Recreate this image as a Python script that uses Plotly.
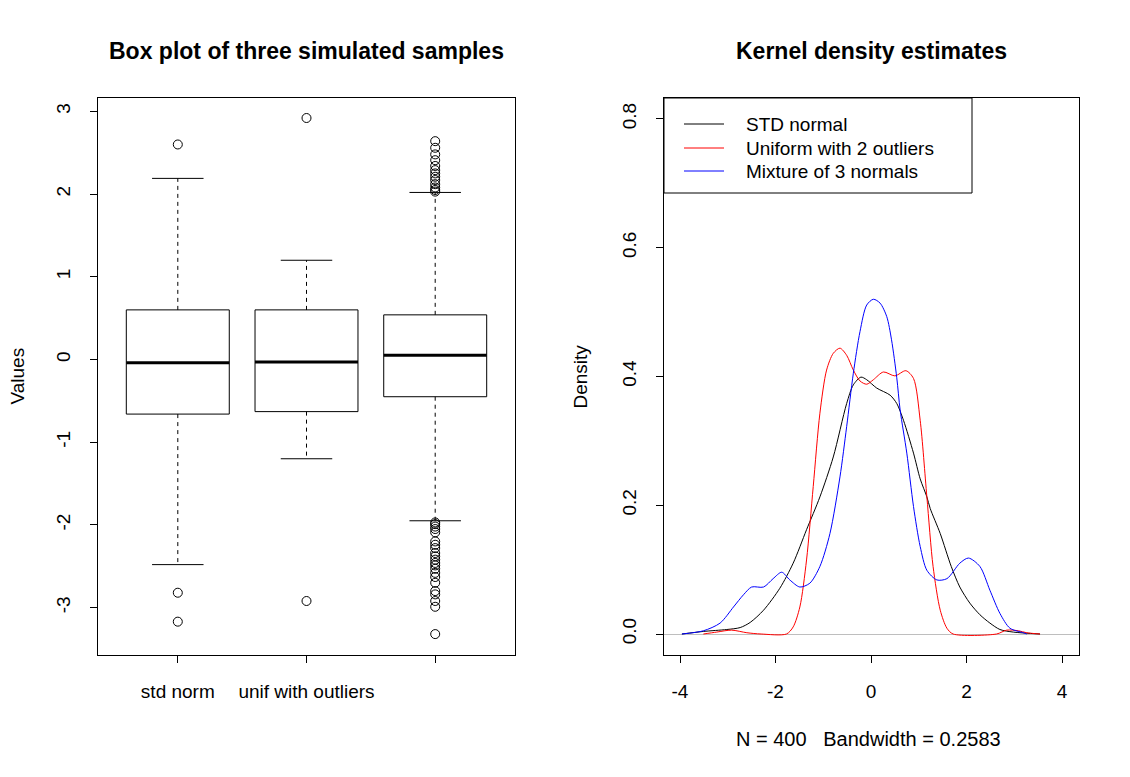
'''
 Box plot and kernel density estimates of three simulated samples
'''

from plotly.subplots import make_subplots
import plotly.graph_objects as go

# box plot summary
box_names = ['std norm', 'unif with outliers', '']
box_pos = [1, 2, 3]
q1 = [-0.66, -0.63, -0.45]
med = [-0.04, -0.03, 0.05]
q3 = [0.60, 0.60, 0.54]
whisk_lo = [-2.48, -1.20, -1.95]
whisk_hi = [2.19, 1.20, 2.02]

out_norm = [2.60, -2.82, -3.17]
out_unif = [2.92, -2.92]
out_mix = [2.64, 2.56, 2.48, 2.41, 2.34, 2.29, 2.25, 2.21, 2.17, 2.12, 2.08, 2.05, 2.03,
           -1.97, -1.99, -2.02, -2.05, -2.09, -2.20, -2.24, -2.28, -2.34, -2.38, -2.42,
           -2.46, -2.49, -2.53, -2.58, -2.63, -2.70, -2.80, -2.84, -2.92, -2.99, -3.32]

# density curves
norm_x = [-3.96, -3.51, -3.02, -2.74, -2.53, -2.25, -1.91, -1.63, -1.35, -1.07, -0.79, -0.51,
          -0.37, -0.21, -0.09, 0.12, 0.40, 0.54, 0.68, 0.89, 1.03, 1.17, 1.24, 1.45, 1.68,
          1.86, 2.07, 2.28, 2.49, 2.70, 2.98, 3.54]
norm_y = [0.000, 0.004, 0.007, 0.010, 0.018, 0.037, 0.071, 0.110, 0.162, 0.213, 0.275, 0.358,
          0.387, 0.399, 0.395, 0.382, 0.371, 0.358, 0.332, 0.281, 0.241, 0.213, 0.195, 0.156,
          0.105, 0.073, 0.048, 0.030, 0.017, 0.007, 0.003, 0.000]

unif_x = [-3.51, -3.23, -2.92, -2.60, -2.30, -1.77, -1.63, -1.49, -1.35, -1.21, -1.07, -0.93,
          -0.79, -0.65, -0.51, -0.37, -0.23, -0.09, 0.05, 0.26, 0.50, 0.73, 0.89, 1.03, 1.17,
          1.30, 1.45, 1.59, 1.72, 2.63, 2.84, 3.09, 3.26, 3.54]
unif_y = [0.000, 0.003, 0.006, 0.002, 0.000, 0.000, 0.011, 0.042, 0.115, 0.229, 0.343, 0.410,
          0.436, 0.444, 0.433, 0.410, 0.393, 0.388, 0.395, 0.407, 0.401, 0.409, 0.397, 0.332,
          0.213, 0.105, 0.037, 0.009, 0.000, 0.000, 0.006, 0.005, 0.002, 0.000]

mix_x = [-3.96, -3.51, -3.16, -2.88, -2.67, -2.50, -2.25, -2.05, -1.87, -1.70, -1.49, -1.28,
         -1.07, -0.86, -0.65, -0.51, -0.37, -0.23, -0.09, 0.05, 0.19, 0.33, 0.43, 0.54, 0.61,
         0.75, 0.89, 1.03, 1.17, 1.38, 1.59, 1.86, 2.04, 2.28, 2.49, 2.70, 2.91, 3.19, 3.26]
mix_y = [0.000, 0.005, 0.017, 0.042, 0.061, 0.073, 0.073, 0.086, 0.096, 0.084, 0.073, 0.079,
         0.105, 0.156, 0.244, 0.322, 0.405, 0.470, 0.511, 0.520, 0.514, 0.493, 0.457, 0.398,
         0.348, 0.281, 0.198, 0.136, 0.099, 0.084, 0.086, 0.110, 0.118, 0.105, 0.068, 0.032,
         0.009, 0.002, 0.000]

values_ticks = [-3, -2, -1, 0, 1, 2, 3]
dens_xticks = [-4, -2, 0, 2, 4]
dens_yticks = [0, 0.2, 0.4, 0.6, 0.8]
legend_labels = ['STD normal', 'Uniform with 2 outliers', 'Mixture of 3 normals']
legend_colors = ['black', 'red', 'blue']

FONT = 'Liberation Sans, Arial, sans-serif'
W, H = 1130, 777
BW = 0.4   # half box width
SW = 0.2   # half staple width


def rlab(v, fmt='{:g}'):
    # R prints a plain hyphen for negatives
    return fmt.format(v).replace('\u2212', '-')


fig = make_subplots(rows=1, cols=2)

# boxes drawn by hand to get R's look (dashed whiskers, thick median)
for i, p in enumerate(box_pos):
    fig.add_trace(go.Scatter(x=[p - BW, p + BW, p + BW, p - BW, p - BW],
                             y=[q1[i], q1[i], q3[i], q3[i], q1[i]],
                             mode='lines', line=dict(color='black', width=1)), 1, 1)
    fig.add_trace(go.Scatter(x=[p - BW, p + BW], y=[med[i], med[i]],
                             mode='lines', line=dict(color='black', width=3)), 1, 1)
    fig.add_trace(go.Scatter(x=[p, p, None, p, p], y=[q3[i], whisk_hi[i], None, q1[i], whisk_lo[i]],
                             mode='lines', line=dict(color='black', width=1, dash='4px,4px')), 1, 1)
    fig.add_trace(go.Scatter(x=[p - SW, p + SW, None, p - SW, p + SW],
                             y=[whisk_hi[i], whisk_hi[i], None, whisk_lo[i], whisk_lo[i]],
                             mode='lines', line=dict(color='black', width=1)), 1, 1)

for p, outs in zip(box_pos, [out_norm, out_unif, out_mix]):
    fig.add_trace(go.Scatter(x=[p] * len(outs), y=outs, mode='markers',
                             marker=dict(symbol='circle-open', size=9, color='black',
                                         line=dict(width=1))), 1, 1)

for xs, ys, col, name in zip([norm_x, unif_x, mix_x], [norm_y, unif_y, mix_y],
                             legend_colors, legend_labels):
    fig.add_trace(go.Scatter(x=xs, y=ys, mode='lines', name=name,
                             line=dict(color=col, width=1, shape='spline', smoothing=0.8)), 1, 2)

axis_common = dict(showline=True, mirror=True, linecolor='black', linewidth=1,
                   ticks='outside', ticklen=7, tickcolor='black', showgrid=False,
                   zeroline=False, tickfont=dict(family=FONT, size=19, color='black'))

fig.update_xaxes(**axis_common)
fig.update_yaxes(**axis_common)

fig.update_xaxes(domain=[98 / W, 515 / W], range=[0.38, 3.62], tickvals=box_pos,
                 ticktext=box_names, ticklabelstandoff=12, row=1, col=1)
fig.update_yaxes(domain=[1 - 655 / H, 1 - 98 / H], range=[-3.573, 3.162],
                 tickvals=values_ticks, ticktext=[rlab(v) for v in values_ticks],
                 tickangle=-90, ticklabelstandoff=12, row=1, col=1)
fig.update_xaxes(domain=[664 / W, 1079 / W], range=[-4.335, 4.356],
                 tickvals=dens_xticks, ticktext=[rlab(v) for v in dens_xticks],
                 ticklabelstandoff=12, row=1, col=2)
fig.update_yaxes(domain=[1 - 655 / H, 1 - 98 / H], range=[-0.0326, 0.8326],
                 tickvals=dens_yticks, ticktext=[rlab(v, '{:.1f}') for v in dens_yticks],
                 tickangle=-90, ticklabelstandoff=12, zeroline=True, zerolinecolor='#bebebe',
                 zerolinewidth=1, row=1, col=2)

txt = dict(family=FONT, size=19, color='black')
ann = [
    dict(text='<b>Box plot of three simulated samples</b>', x=306.5 / W, y=1 - 51 / H,
         font=dict(family=FONT, size=23, color='black')),
    dict(text='<b>Kernel density estimates</b>', x=871.5 / W, y=1 - 51 / H,
         font=dict(family=FONT, size=23, color='black')),
    dict(text='Values', x=17 / W, y=1 - 376.5 / H, textangle=-90, font=txt),
    dict(text='Density', x=580 / W, y=1 - 376.5 / H, textangle=-90, font=txt),
    dict(text='N = 400\u00a0\u00a0\u00a0Bandwidth = 0.2583', x=868 / W, y=1 - 739 / H,
         font=dict(family=FONT, size=20, color='black')),
]
for a in ann:
    a.update(xanchor='center')

# R-style legend box in the top-left corner of the density panel
shapes = [dict(type='rect', xref='paper', yref='paper', x0=664 / W, x1=972 / W,
               y0=1 - 193 / H, y1=1 - 98 / H, line=dict(color='black', width=1),
               fillcolor='white', layer='below')]
legend_rows = [124, 148, 171]
for lab, col, row_px in zip(legend_labels, legend_colors, legend_rows):
    ly = 1 - row_px / H
    shapes.append(dict(type='line', xref='paper', yref='paper', x0=684 / W, x1=724 / W,
                       y0=ly, y1=ly, line=dict(color=col, width=1)))
    ann.append(dict(text=lab, x=744 / W, y=ly, xanchor='left', font=txt))

for a in ann:
    a.update(xref='paper', yref='paper', showarrow=False, yanchor='middle')

fig.update_layout(width=W, height=H, margin=dict(l=0, r=0, t=0, b=0),
                  plot_bgcolor='rgba(0,0,0,0)', paper_bgcolor='white', showlegend=False,
                  annotations=ann, shapes=shapes)

fig.write_html("out.html", config={'displayModeBar': False},
               post_script="document.body.style.margin='0px';")
